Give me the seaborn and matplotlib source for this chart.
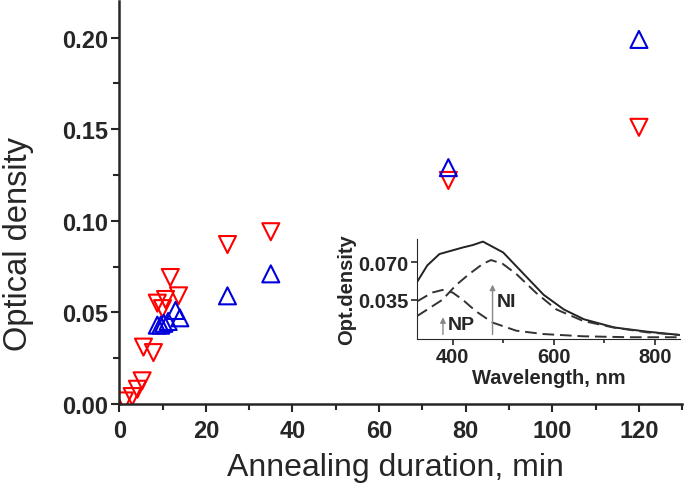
import matplotlib
matplotlib.use('Agg')
import matplotlib.pyplot as plt
from matplotlib.ticker import MultipleLocator, FormatStrFormatter
import seaborn as sns

# main plot: optical density vs annealing time
red_x = [1.2, 3.0, 4.2, 5.3, 5.6, 7.9, 8.8, 10.0, 10.7, 11.8, 13.7, 25, 35, 76, 120]
red_y = [0.0016, 0.004, 0.008, 0.0126, 0.031, 0.028, 0.055, 0.052, 0.057, 0.069, 0.059,
         0.087, 0.094, 0.122, 0.151]
blue_x = [8.8, 9.6, 10.3, 11.3, 13.0, 14.0, 25, 35, 76, 120]
blue_y = [0.043, 0.043, 0.044, 0.045, 0.051, 0.047, 0.059, 0.071, 0.129, 0.199]

# inset: spectrum and its two components
wl_total = [330, 350, 374, 420, 440, 460, 500, 540, 580, 620, 660, 720, 785, 850]
od_total = [0.0517, 0.067, 0.0776, 0.0837, 0.086, 0.0892, 0.0791, 0.0593, 0.0396, 0.0259,
            0.0167, 0.0091, 0.0052, 0.0021]
wl_ni = [330, 380, 407, 433, 460, 476, 499, 526, 566, 605, 658, 718, 784, 850]
od_ni = [0.0198, 0.035, 0.0487, 0.059, 0.0685, 0.072, 0.0685, 0.059, 0.041, 0.026, 0.0152,
         0.0091, 0.0046, 0.0021]
wl_np = [330, 360, 380, 400, 420, 446, 479, 526, 579, 658, 751, 850]
od_np = [0.0335, 0.0417, 0.0441, 0.0417, 0.035, 0.0243, 0.0137, 0.0061, 0.003, 0.0009, 0.0, 0.0]

sns.set_style("ticks")
plt.rcParams['font.family'] = ['Liberation Sans', 'DejaVu Sans']

fig = plt.figure(figsize=(6.85, 4.89), dpi=100)
ax = fig.add_axes([0.174, 0.172, 0.822, 0.824])

sns.scatterplot(x=red_x, y=red_y, marker='v', s=150, facecolors='none', edgecolor='red',
                linewidth=1.5, ax=ax)
sns.scatterplot(x=blue_x, y=blue_y, marker='^', s=150, facecolors='none', edgecolor='#0000dd',
                linewidth=1.5, ax=ax)

ax.set_xlim(0, 130)
ax.set_ylim(0, 0.22)
ax.xaxis.set_major_locator(MultipleLocator(20))
ax.xaxis.set_minor_locator(MultipleLocator(10))
ax.yaxis.set_major_locator(MultipleLocator(0.05))
ax.yaxis.set_minor_locator(MultipleLocator(0.025))
ax.yaxis.set_major_formatter(FormatStrFormatter('%.2f'))
ax.tick_params(which='major', length=6, width=1.5, labelsize=17)
ax.tick_params(which='minor', length=4, width=1.5)
ax.tick_params(axis='x', which='major', pad=5)
ax.tick_params(axis='y', which='major', pad=2)
for lbl in ax.get_xticklabels() + ax.get_yticklabels():
    lbl.set_fontweight('bold')
for s in ['left', 'bottom']:
    ax.spines[s].set_linewidth(1.8)
sns.despine(ax=ax)
ax.set_xlabel('Annealing duration, min', fontsize=23)
ax.set_ylabel('Optical density', fontsize=23.5)
ax.xaxis.set_label_coords(0.49, -0.12)
ax.yaxis.set_label_coords(-0.152, 0.40)

# inset
ins = fig.add_axes([0.609, 0.305, 0.384, 0.205])
sns.lineplot(x=wl_total, y=od_total, color='#222222', linewidth=1.4, ax=ins)
sns.lineplot(x=wl_ni, y=od_ni, color='#333333', linewidth=1.4, linestyle=(0, (6, 3)), ax=ins)
sns.lineplot(x=wl_np, y=od_np, color='#333333', linewidth=1.4, linestyle=(0, (6, 3)), ax=ins)
ins.annotate('', xy=(381, 0.0213), xytext=(381, 0),
             arrowprops=dict(arrowstyle='-|>', color='#888888', lw=1, mutation_scale=8))
ins.annotate('', xy=(479, 0.0517), xytext=(479, 0),
             arrowprops=dict(arrowstyle='-|>', color='#888888', lw=1, mutation_scale=8))
ins.text(390, 0.012, 'NP', fontsize=14, fontweight='bold', va='center')
ins.text(487, 0.0335, 'NI', fontsize=14, fontweight='bold', va='center')
ins.set_xlim(330, 850)
ins.set_ylim(-0.0015, 0.092)
ins.xaxis.set_major_locator(MultipleLocator(200))
ins.xaxis.set_minor_locator(MultipleLocator(100))
ins.set_yticks([0.035, 0.070])
ins.yaxis.set_major_formatter(FormatStrFormatter('%.3f'))
ins.tick_params(which='major', length=4, width=1.2, labelsize=14.5, pad=2)
ins.tick_params(which='minor', length=3, width=1.2)
for lbl in ins.get_xticklabels() + ins.get_yticklabels():
    lbl.set_fontweight('bold')
sns.despine(ax=ins)
ins.patch.set_alpha(0)
ins.set_xlabel('Wavelength, nm', fontsize=14.5, fontweight='bold', labelpad=1)
ins.set_ylabel('Opt.density', fontsize=14.5, fontweight='bold', labelpad=2)

fig.savefig('out.png', dpi=100)
